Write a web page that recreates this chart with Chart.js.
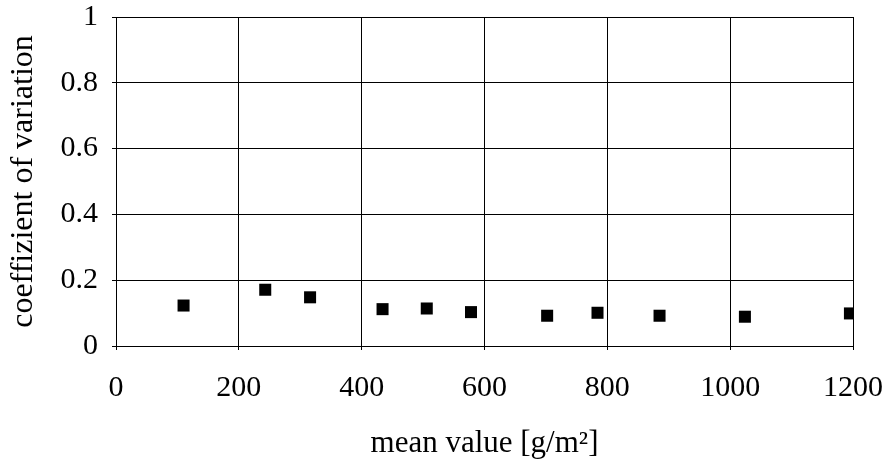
<!DOCTYPE html>
<html>
<head>
<meta charset="utf-8">
<title>coeffizient of variation</title>
<script src="https://cdn.jsdelivr.net/npm/chart.js@4.4.1/dist/chart.umd.min.js"></script>
<style>
	html, body { margin: 0; padding: 0; background: #fff; }
	#cvChart { display: block; }
</style>
</head>
<body>
<canvas id="cvChart" width="886" height="462"></canvas>
<script>
// values
var meanValues	= [110, 243, 316, 434, 506, 578, 702, 784, 885, 1024, 1195]
var cvValues	= [0.123, 0.171, 0.148, 0.112, 0.114, 0.103, 0.092, 0.101, 0.092, 0.089, 0.099]
var xTicks		= [0, 200, 400, 600, 800, 1000, 1200]
var yTicks		= [0, 0.2, 0.4, 0.6, 0.8, 1]

var points = []
for (var i = 0; i < meanValues.length; i++) {
	points.push({x: meanValues[i], y: cvValues[i]})
}

var serif = 'Liberation Serif, Times New Roman, serif'

var gridOpts = {
	color		: '#000',
	lineWidth	: 1,
	drawTicks	: true,
	tickLength	: 4,
	tickColor	: '#000'
}

var chartOptions = {
	responsive	: false,
	animation	: false,
	layout		: { padding: { left: 0, top: 17, right: 33, bottom: 0 } },
	plugins		: { legend: { display: false }, tooltip: { enabled: false } },
	scales		: {
		x: {
			type	: 'linear',
			min		: xTicks[0],
			max		: xTicks[xTicks.length - 1],
			grid	: gridOpts,
			border	: { color: '#000', width: 1 },
			afterBuildTicks: function(axis){
				axis.ticks = xTicks.map(function(v){ return {value: v} })
			},
			afterFit: function(axis){
				axis.height = 116
				axis.paddingLeft = 0
				axis.paddingRight = 0
			},
			ticks	: {
				color	: '#000',
				padding	: 20,
				font	: { family: serif, size: 30 },
				callback: function(v){ return String(v) }
			},
			title	: {
				display	: true,
				text	: 'mean value [g/m²]',
				color	: '#000',
				padding	: { top: 4, bottom: 0 },
				font	: { family: serif, size: 31 }
			}
		},
		y: {
			type	: 'linear',
			min		: yTicks[0],
			max		: yTicks[yTicks.length - 1],
			grid	: gridOpts,
			border	: { color: '#000', width: 1 },
			afterBuildTicks: function(axis){
				axis.ticks = yTicks.map(function(v){ return {value: v} })
			},
			afterFit: function(axis){
				axis.width = 116
				axis.paddingTop = 0
				axis.paddingBottom = 0
			},
			ticks	: {
				color	: '#000',
				padding	: 14,
				font	: { family: serif, size: 30 },
				callback: function(v){ return String(v) }
			},
			title	: {
				display	: true,
				text	: 'coeffizient of variation',
				color	: '#000',
				padding	: { top: 4, bottom: 0 },
				font	: { family: serif, size: 32 }
			}
		}
	}
}

var ctx = document.getElementById('cvChart').getContext('2d')
var cvChart = new Chart(ctx, {
	type	: 'scatter',
	data	: {
		datasets: [{
			label				: 'coeffizient of variation',
			data				: points,
			pointStyle			: 'rect',
			pointRadius			: 8.5,
			pointBorderWidth	: 0,
			backgroundColor		: '#000',
			borderColor			: '#000'
		}]
	},
	options	: chartOptions,
	plugins	: [{
		id: 'whiteBg',
		beforeDraw: function(c){
			var g = c.ctx
			g.save()
			g.fillStyle = '#fff'
			g.fillRect(0, 0, c.width, c.height)
			g.restore()
		}
	}]
})
</script>
</body>
</html>
